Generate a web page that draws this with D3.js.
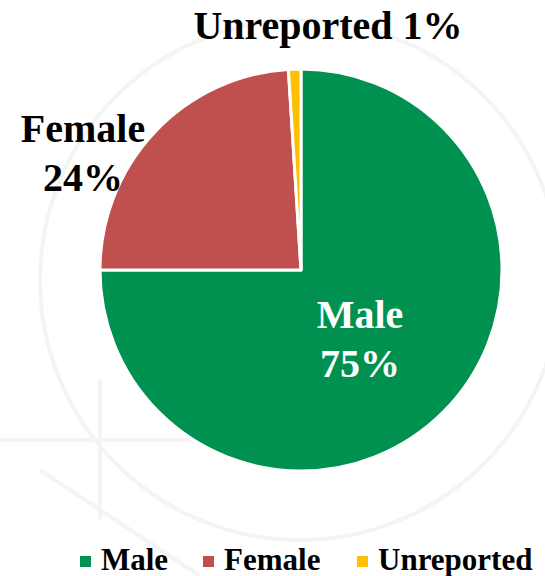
<!DOCTYPE html>
<html>
<head>
<meta charset="utf-8">
<script src="https://cdn.jsdelivr.net/npm/d3@7"></script>
<style>
  body { margin: 0; background: #fff; }
  svg { display: block; }
  text { font-family: "Times New Roman", "Liberation Serif", Tinos, Times, serif; font-weight: bold; }
</style>
</head>
<body>
<svg width="545" height="576"></svg>
<script>
var categories = ["Male", "Female", "Unreported"];
var values = [75, 24, 1];
var colors = ["#009150", "#c0504d", "#ffc000"];

var width = 545, height = 576;
var cx = 301, cy = 270, radius = 201;

var svg = d3.select("svg");

// faint watermark-ish background strokes
var bg = svg.append("g").attr("stroke", "#f4f4f4").attr("fill", "none").attr("stroke-width", 4);
bg.append("circle").attr("cx", 300).attr("cy", 280).attr("r", 260);
bg.append("line").attr("x1", 0).attr("y1", 440).attr("x2", 230).attr("y2", 440);
bg.append("line").attr("x1", 40).attr("y1", 470).attr("x2", 200).attr("y2", 576);
bg.append("line").attr("x1", 100).attr("y1", 380).attr("x2", 100).attr("y2", 520);

var data = categories.map(function (c, i) {
    return { name: c, value: values[i], color: colors[i] };
});

var pie = d3.pie().sort(null).value(function (d) { return d.value; });
var arc = d3.arc().innerRadius(0).outerRadius(radius);

var g = svg.append("g").attr("transform", "translate(" + cx + "," + cy + ")");

g.selectAll("path")
    .data(pie(data))
    .enter().append("path")
    .attr("d", arc)
    .attr("fill", function (d) { return d.data.color; })
    .attr("stroke", "#fff")
    .attr("stroke-width", 3)
    .attr("stroke-linejoin", "round");

// data labels
var labels = [
    { lines: ["Male", "75%"], x: 360, y: 328, fill: "#fff" },
    { lines: ["Female", "24%"], x: 83, y: 142, fill: "#000" },
    { lines: ["Unreported 1%"], x: 328, y: 39, fill: "#000" }
];
labels.forEach(function (l) {
    var t = svg.append("text")
        .attr("text-anchor", "middle")
        .attr("font-size", 40)
        .attr("fill", l.fill);
    l.lines.forEach(function (s, i) {
        t.append("tspan").attr("x", l.x).attr("y", l.y + i * 49).text(s);
    });
});

// legend
var legendX = [80, 203, 357];
var legend = svg.append("g");
data.forEach(function (d, i) {
    legend.append("rect")
        .attr("x", legendX[i]).attr("y", 556)
        .attr("width", 11).attr("height", 11)
        .attr("fill", d.color);
    legend.append("text")
        .attr("x", legendX[i] + 21).attr("y", 570)
        .attr("font-size", 31)
        .attr("fill", "#000")
        .text(d.name);
});
</script>
</body>
</html>
